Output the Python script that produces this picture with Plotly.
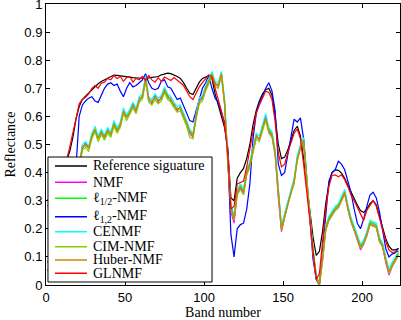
import plotly.graph_objects as go

bands = list(range(1, 224, 2))

ref = [0.30,0.32,0.34,0.36,0.385,0.41,0.44,
       0.475,0.525,0.59,0.635,0.66,0.672,0.683,0.695,0.707,0.716,0.724,0.73,0.737,0.743,0.747,0.746,0.744,0.742,0.741,0.740,
       0.738,0.737,0.736,0.735,0.736,0.737,0.738,0.739,0.742,0.748,0.752,0.754,0.752,0.748,0.742,0.735,0.72,0.70,0.682,0.678,
       0.70,0.722,0.735,0.74,0.745,0.735,
       0.68,0.64,0.60,0.56,0.49,0.31,0.30,0.38,0.40,0.415,0.45,0.50,0.57,0.62,0.655,0.68,0.695,0.70,0.675,0.60,
       0.50,0.45,0.455,0.48,0.515,0.55,0.565,0.53,0.45,0.36,0.25,0.17,0.105,0.12,0.19,0.29,0.36,0.40,0.41,0.408,
       0.398,0.38,0.355,0.33,0.31,0.285,0.265,0.258,0.27,0.29,0.30,0.285,0.245,0.205,0.165,0.138,0.125,0.125,0.13]

nmf = [0.05,0.07,0.09,0.12,0.15,0.19,0.23,
       0.27,0.31,0.36,0.42,0.485,0.505,0.49,0.525,0.55,0.525,0.54,0.53,0.545,0.54,0.57,0.555,0.565,0.615,0.60,0.61,
       0.645,0.615,0.665,0.665,0.73,0.665,0.645,0.675,0.65,0.67,0.69,0.675,0.655,0.645,0.62,0.635,0.60,0.58,0.54,0.525,
       0.605,0.65,0.67,0.695,0.73,0.745,
       0.72,0.705,0.748,0.645,0.44,0.26,0.22,0.325,0.345,0.325,0.395,0.425,0.485,0.535,0.515,0.565,0.60,0.545,0.53,0.465,
       0.31,0.19,0.24,0.285,0.335,0.365,0.455,0.485,0.51,0.365,0.235,0.115,0.02,0.0,0.085,0.195,0.23,0.25,0.265,0.275,
       0.30,0.325,0.27,0.225,0.195,0.16,0.125,0.145,0.175,0.215,0.21,0.205,0.155,0.135,0.08,0.035,0.065,0.085,0.105]

l12 = [0.05,0.07,0.09,0.12,0.15,0.19,0.23,
       0.27,0.31,0.36,0.42,0.495,0.495,0.49,0.535,0.55,0.525,0.55,0.52,0.555,0.53,0.58,0.545,0.575,0.615,0.60,0.62,
       0.635,0.625,0.655,0.675,0.74,0.655,0.655,0.665,0.66,0.66,0.70,0.665,0.665,0.635,0.63,0.625,0.61,0.57,0.55,0.535,
       0.595,0.66,0.66,0.705,0.72,0.755,
       0.71,0.715,0.755,0.655,0.455,0.285,0.24,0.335,0.355,0.335,0.405,0.435,0.475,0.525,0.525,0.555,0.59,0.555,0.54,0.475,
       0.325,0.205,0.25,0.295,0.325,0.375,0.445,0.495,0.52,0.375,0.245,0.125,0.035,0.005,0.095,0.205,0.24,0.26,0.275,0.285,
       0.31,0.335,0.28,0.235,0.205,0.175,0.14,0.155,0.185,0.225,0.22,0.215,0.165,0.145,0.095,0.05,0.075,0.095,0.115]

l1_2 = [0.08,0.10,0.12,0.15,0.18,0.22,0.26,
        0.30,0.35,0.42,0.60,0.64,0.655,0.665,0.67,0.655,0.65,0.675,0.70,0.715,0.72,0.71,0.715,0.69,0.67,0.70,0.72,
        0.705,0.71,0.72,0.73,0.752,0.72,0.70,0.695,0.70,0.725,0.73,0.705,0.70,0.68,0.66,0.665,0.64,0.615,0.585,0.58,
        0.62,0.665,0.70,0.72,0.745,0.70,
        0.665,0.65,0.615,0.58,0.47,0.18,0.10,0.20,0.215,0.22,0.27,0.36,0.52,0.61,0.65,0.67,0.70,0.72,0.69,0.62,
        0.43,0.39,0.40,0.46,0.52,0.59,0.58,0.595,0.52,0.38,0.25,0.09,0.02,0.0,0.12,0.25,0.37,0.40,0.41,0.44,
        0.43,0.41,0.37,0.33,0.27,0.22,0.20,0.235,0.28,0.32,0.33,0.31,0.26,0.195,0.13,0.10,0.11,0.115,0.13]

cenmf = [0.05,0.07,0.09,0.12,0.15,0.19,0.23,
         0.27,0.31,0.36,0.43,0.50,0.51,0.495,0.54,0.565,0.53,0.555,0.535,0.56,0.545,0.585,0.56,0.58,0.63,0.605,0.625,
         0.65,0.63,0.67,0.68,0.745,0.67,0.66,0.68,0.665,0.675,0.705,0.68,0.67,0.65,0.635,0.64,0.615,0.585,0.555,0.54,
         0.61,0.665,0.675,0.71,0.735,0.76,
         0.725,0.72,0.76,0.66,0.46,0.29,0.245,0.34,0.36,0.34,0.41,0.44,0.49,0.54,0.53,0.57,0.61,0.56,0.545,0.48,
         0.33,0.21,0.255,0.30,0.34,0.38,0.46,0.50,0.525,0.38,0.25,0.13,0.035,0.0,0.10,0.21,0.245,0.265,0.28,0.29,
         0.315,0.34,0.285,0.24,0.21,0.18,0.145,0.16,0.19,0.23,0.225,0.22,0.17,0.15,0.10,0.055,0.08,0.10,0.12]

cim = [0.05,0.07,0.09,0.12,0.15,0.19,0.23,
       0.27,0.31,0.36,0.41,0.48,0.49,0.475,0.52,0.545,0.51,0.535,0.515,0.54,0.525,0.565,0.54,0.56,0.61,0.585,0.605,
       0.63,0.61,0.65,0.66,0.725,0.65,0.64,0.66,0.645,0.655,0.685,0.66,0.65,0.63,0.615,0.62,0.595,0.565,0.525,0.52,
       0.59,0.645,0.655,0.69,0.715,0.745,
       0.705,0.70,0.745,0.64,0.44,0.27,0.23,0.32,0.34,0.32,0.39,0.42,0.47,0.52,0.51,0.55,0.585,0.54,0.525,0.46,
       0.31,0.195,0.24,0.285,0.325,0.36,0.44,0.485,0.51,0.36,0.235,0.115,0.025,0.0,0.085,0.195,0.23,0.25,0.265,0.275,
       0.30,0.325,0.27,0.225,0.195,0.165,0.13,0.145,0.175,0.215,0.21,0.205,0.155,0.135,0.085,0.04,0.065,0.085,0.105]

huber = [0.05,0.07,0.09,0.12,0.15,0.19,0.23,
         0.27,0.31,0.36,0.42,0.49,0.50,0.485,0.53,0.555,0.52,0.545,0.525,0.55,0.535,0.575,0.55,0.57,0.62,0.595,0.615,
         0.64,0.62,0.66,0.67,0.735,0.66,0.65,0.67,0.655,0.665,0.695,0.67,0.66,0.64,0.625,0.63,0.605,0.575,0.545,0.53,
         0.60,0.655,0.665,0.70,0.725,0.75,
         0.715,0.71,0.752,0.65,0.45,0.28,0.235,0.33,0.35,0.33,0.40,0.43,0.48,0.53,0.52,0.56,0.595,0.55,0.535,0.47,
         0.32,0.20,0.245,0.29,0.33,0.37,0.45,0.49,0.515,0.37,0.24,0.12,0.03,0.0,0.09,0.20,0.235,0.255,0.27,0.28,
         0.305,0.33,0.275,0.23,0.20,0.17,0.135,0.15,0.18,0.22,0.215,0.21,0.16,0.14,0.09,0.045,0.07,0.09,0.11]

glnmf = [0.28,0.30,0.32,0.35,0.38,0.41,0.445,
         0.49,0.545,0.60,0.645,0.66,0.668,0.68,0.70,0.71,0.70,0.718,0.722,0.735,0.73,0.745,0.735,0.742,0.725,0.738,0.742,
         0.722,0.735,0.73,0.742,0.728,0.745,0.73,0.722,0.738,0.725,0.74,0.735,0.728,0.738,0.73,0.72,0.71,0.69,0.67,0.66,
         0.685,0.705,0.72,0.735,0.748,0.74,
         0.70,0.66,0.62,0.57,0.47,0.27,0.28,0.36,0.365,0.37,0.42,0.48,0.55,0.61,0.64,0.665,0.69,0.685,0.66,0.58,
         0.47,0.42,0.43,0.47,0.505,0.54,0.555,0.52,0.43,0.34,0.23,0.12,0.02,0.04,0.16,0.27,0.35,0.39,0.392,0.385,
         0.392,0.375,0.35,0.32,0.30,0.275,0.25,0.23,0.265,0.285,0.30,0.28,0.24,0.195,0.155,0.125,0.115,0.118,0.12]

names = ["Reference siguature", "NMF", "ℓ<sub>1/2</sub>-NMF", "ℓ<sub>1,2</sub>-NMF",
         "CENMF", "CIM-NMF", "Huber-NMF", "GLNMF"]
values = [ref, nmf, l12, l1_2, cenmf, cim, huber, glnmf]
colors = ["#000000", "#ff00ff", "#00ff00", "#0000ff", "#00ffff", "#80d000", "#d08400", "#ff0000"]

x_ticks = [0, 50, 100, 150, 200]
y_ticks = [0, 0.1, 0.2, 0.3, 0.4, 0.5, 0.6, 0.7, 0.8, 0.9, 1]
y_labels = ["0", "0.1", "0.2", "0.3", "0.4", "0.5", "0.6", "0.7", "0.8", "0.9", "1"]

fig = go.Figure()
for name, vals, col in zip(names, values, colors):
    fig.add_trace(go.Scatter(x=bands, y=vals, mode="lines", name=name, showlegend=False,
                             line=dict(color=col, width=1.2)))

axis_common = dict(showline=True, linecolor="black", linewidth=1, mirror="ticks",
                   ticks="inside", ticklen=4, tickcolor="black", showgrid=False, zeroline=False,
                   automargin=False, ticklabeloverflow="allow",
                   tickfont=dict(family="Liberation Sans, Arial", size=13, color="black"))

serif = "Liberation Serif, Times New Roman, serif"
fig.update_xaxes(range=[0, 224], tickvals=x_ticks,
                 title=dict(text="Band number", font=dict(family=serif, size=14, color="black"), standoff=2),
                 **axis_common)
fig.update_yaxes(range=[0, 1], tickvals=y_ticks, ticktext=y_labels,
                 title=dict(text="Reflectance", font=dict(family=serif, size=14, color="black"), standoff=5),
                 **axis_common)

# custom legend (box, line samples and labels in plot-area paper coordinates)
leg_y = [0.4235, 0.3655, 0.3085, 0.243, 0.1897, 0.1363, 0.089, 0.0416]
shapes = [dict(type="rect", xref="paper", yref="paper", x0=0.0056, x1=0.469, y0=0.0107, y1=0.4555,
               fillcolor="white", line=dict(color="black", width=1), layer="above")]
annotations = []
for name, col, yy in zip(names, colors, leg_y):
    shapes.append(dict(type="line", xref="paper", yref="paper", x0=0.0254, x1=0.1158, y0=yy, y1=yy,
                       line=dict(color=col, width=1.5), layer="above"))
    annotations.append(dict(xref="paper", yref="paper", x=0.1263, y=yy, xanchor="left", yanchor="middle",
                            text=name, showarrow=False, font=dict(family=serif, size=14, color="black")))

fig.update_layout(
    width=401, height=320,
    margin=dict(l=46, r=1, t=4, b=35),
    paper_bgcolor="white", plot_bgcolor="white",
    shapes=shapes, annotations=annotations,
)

fig.write_html("out.html", config={"displayModeBar": False},
               post_script="document.body.style.margin='0px';document.body.style.padding='0px';")
